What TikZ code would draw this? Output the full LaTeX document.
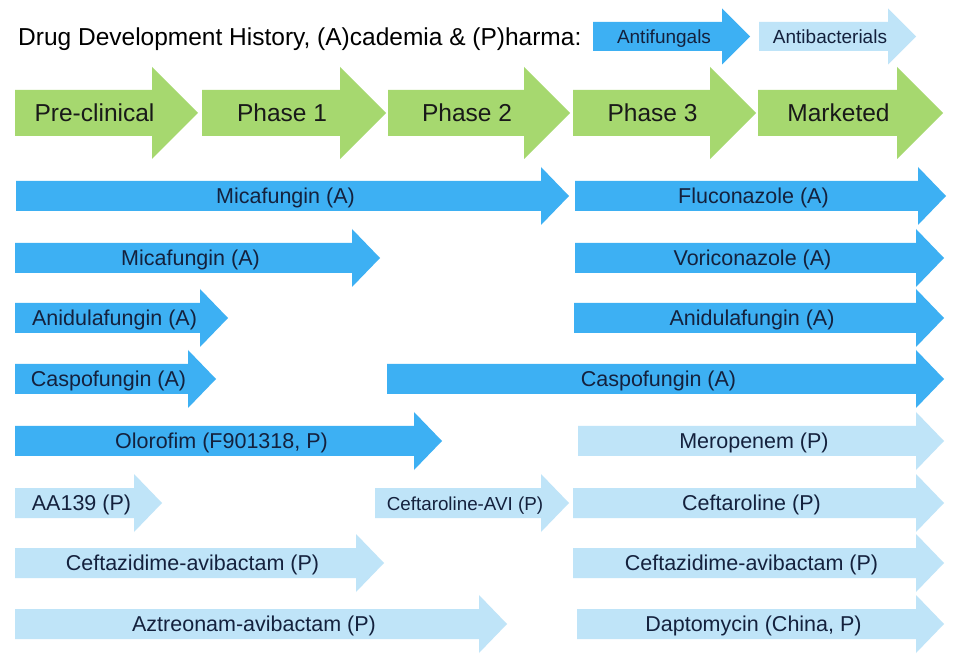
\documentclass[tikz,border=0pt]{standalone}
\usepackage{fontspec}
\setmainfont{Liberation Sans}
\usepackage{tikz}
\usetikzlibrary{positioning}

\definecolor{stagegreen}{HTML}{A6D86F}
\definecolor{fungblue}{HTML}{3DB0F3}
\definecolor{bactblue}{HTML}{BFE4F8}
\definecolor{labelnavy}{HTML}{14213D}

\tikzset{
  stage/.style={fill=stagegreen},
  fung/.style={fill=fungblue},
  bact/.style={fill=bactblue},
  stagetext/.style={font=\fontsize{24.5}{26}\selectfont, text=black!90},
  drugtext/.style={font=\fontsize{21.5}{24}\selectfont, text=labelnavy},
  smalltext/.style={font=\fontsize{18.8}{21}\selectfont, text=labelnavy},
  keytext/.style={font=\fontsize{19}{21}\selectfont, text=labelnavy}
}

% arrow shape sizes: half body, half head, head length, text shift, baseline drop
\def\bh{15}\def\hh{29}\def\hl{28}\def\ts{7}\def\bs{7.7}

% #1 name, #2 style, #3 left x, #4 tip x, #5 y, #6 text style, #7 text
\newcommand{\phasearrow}[7]{%
  \fill[#2] (#3,#5-\bh) -- (#4-\hl,#5-\bh) -- (#4-\hl,#5-\hh) -- (#4,#5)
    -- (#4-\hl,#5+\hh) -- (#4-\hl,#5+\bh) -- (#3,#5+\bh) -- cycle;
  \node[#6, inner sep=0pt, anchor=base] (#1) at ({(#3+#4)/2-\ts},#5+\bs) {#7};
}

\begin{document}
\begin{tikzpicture}[x=1pt, y=-1pt]
  \useasboundingbox[fill=white] (0,0) rectangle (962,660);

  % title and key
  \node[stagetext, anchor=base west, inner sep=0pt, text=black] (title) at (18,45.5)
    {Drug Development History, (A)cademia \& (P)harma:};
  \def\bh{14.5}\def\hh{28}\def\hl{28}\def\ts{7.5}\def\bs{6.8}
  \phasearrow{keyfung}{fung}{593}{750}{36.5}{keytext}{Antifungals}
  \phasearrow{keybact}{bact}{759}{916}{36.5}{keytext}{Antibacterials}

  % stages
  \def\bh{23}\def\hh{46}\def\hl{46}\def\ts{12}\def\bs{8.8}
  \phasearrow{pre}{stage}{15}{198}{113}{stagetext}{Pre-clinical}
  \phasearrow{ph1}{stage}{202}{386}{113}{stagetext}{Phase 1}
  \phasearrow{ph2}{stage}{388}{570}{113}{stagetext}{Phase 2}
  \phasearrow{ph3}{stage}{573}{756}{113}{stagetext}{Phase 3}
  \phasearrow{mkt}{stage}{758}{943}{113}{stagetext}{Marketed}

  % antifungals
  \def\bh{15}\def\hh{29}\def\hl{28}\def\ts{7}\def\bs{7.7}
  \phasearrow{mica1}{fung}{16}{569}{196}{drugtext}{Micafungin (A)}
  \phasearrow{fluco}{fung}{575}{946}{196}{drugtext}{Fluconazole (A)}
  \phasearrow{mica2}{fung}{15}{380}{258}{drugtext}{Micafungin (A)}
  \phasearrow{vori}{fung}{575}{944}{258}{drugtext}{Voriconazole (A)}
  \phasearrow{anid1}{fung}{15}{228}{318}{drugtext}{Anidulafungin (A)}
  \phasearrow{anid2}{fung}{574}{944}{318}{drugtext}{Anidulafungin (A)}
  \phasearrow{casp1}{fung}{15}{216}{379}{drugtext}{Caspofungin (A)}
  \phasearrow{casp2}{fung}{387}{944}{379}{drugtext}{Caspofungin (A)}
  \phasearrow{olor}{fung}{15}{442}{441}{drugtext}{Olorofim (F901318, P)}

  % antibacterials
  \phasearrow{mero}{bact}{578}{944}{441}{drugtext}{Meropenem (P)}
  \phasearrow{aa}{bact}{15}{162}{503}{drugtext}{AA139 (P)}
  \phasearrow{cavi}{bact}{375}{569}{503}{smalltext}{Ceftaroline-AVI (P)}
  \phasearrow{cefta}{bact}{573}{944}{503}{drugtext}{Ceftaroline (P)}
  \phasearrow{cza1}{bact}{15}{384}{563}{drugtext}{Ceftazidime-avibactam (P)}
  \phasearrow{cza2}{bact}{573}{944}{563}{drugtext}{Ceftazidime-avibactam (P)}
  \phasearrow{azt}{bact}{15}{507}{624}{drugtext}{Aztreonam-avibactam (P)}
  \phasearrow{dapto}{bact}{577}{944}{624}{drugtext}{Daptomycin (China, P)}
\end{tikzpicture}
\end{document}
